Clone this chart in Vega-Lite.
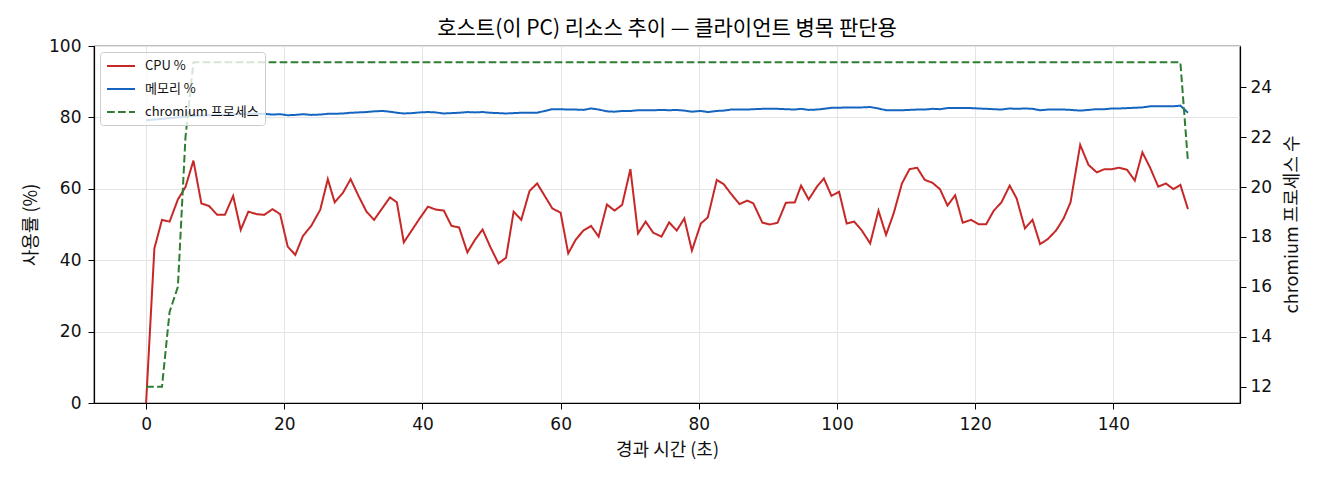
{
"$schema":"https://vega.github.io/schema/vega-lite/v6.json",
"width":1146,"height":357,
"autosize":"none",
"padding":{"left":94,"top":46,"right":80,"bottom":77},
"background":"white",
"title":{"text":"호스트(이 PC) 리소스 추이 — 클라이언트 병목 판단용","fontSize":21,"font":"Noto Sans CJK KR","fontWeight":"normal","color":"#000","offset":-2,"anchor":"middle"},
"config":{
 "font":"Noto Sans CJK KR",
 "view":{"stroke":"#000","strokeWidth":1.2},
 "axis":{"labelFontSize":17,"titleFontSize":18,"titleFontWeight":"normal","labelColor":"#111","titleColor":"#111","domainColor":"#000","domainWidth":1.2,"tickColor":"#000","tickSize":6,"tickWidth":1,"gridColor":"#e4e4e4","gridWidth":1,"labelPadding":7,"labelFlush":false,"labelFont":"DejaVu Sans","titleFont":"Noto Sans CJK KR"},
 "legend":{"labelFont":"Noto Sans CJK KR"}
},
"data":{"values":[
{"t":0,"cpu":0,"mem":79.2,"procs":12},
{"t":1.2,"cpu":43.3,"mem":79.4,"procs":12},
{"t":2.3,"cpu":51.3,"mem":79.6,"procs":12},
{"t":3.4,"cpu":50.8,"mem":79.8,"procs":15},
{"t":4.6,"cpu":57.0,"mem":80.0,"procs":16},
{"t":5.7,"cpu":60.5,"mem":80.2,"procs":22},
{"t":6.85,"cpu":67.9,"mem":80.4,"procs":25},
{"t":8.0,"cpu":55.9,"mem":80.5,"procs":25},
{"t":9.1,"cpu":55.2,"mem":80.6,"procs":25},
{"t":10.3,"cpu":52.7,"mem":80.7,"procs":25},
{"t":11.4,"cpu":52.7,"mem":80.8,"procs":25},
{"t":12.6,"cpu":58.0,"mem":80.9,"procs":25},
{"t":13.7,"cpu":48.5,"mem":81.0,"procs":25},
{"t":14.8,"cpu":53.6,"mem":81.0,"procs":25},
{"t":16.0,"cpu":52.9,"mem":81.0,"procs":25},
{"t":17.1,"cpu":52.7,"mem":81.0,"procs":25},
{"t":18.3,"cpu":54.3,"mem":80.8,"procs":25},
{"t":19.4,"cpu":52.9,"mem":80.9,"procs":25},
{"t":20.5,"cpu":43.8,"mem":80.6,"procs":25},
{"t":21.6,"cpu":41.5,"mem":80.7,"procs":25},
{"t":22.7,"cpu":46.8,"mem":80.9,"procs":25},
{"t":23.9,"cpu":49.6,"mem":80.7,"procs":25},
{"t":25.2,"cpu":54.1,"mem":80.8,"procs":25},
{"t":26.3,"cpu":62.7,"mem":81.0,"procs":25},
{"t":27.3,"cpu":56.2,"mem":81.0,"procs":25},
{"t":28.5,"cpu":58.9,"mem":81.1,"procs":25},
{"t":29.6,"cpu":62.7,"mem":81.3,"procs":25},
{"t":30.8,"cpu":57.8,"mem":81.4,"procs":25},
{"t":31.9,"cpu":53.6,"mem":81.5,"procs":25},
{"t":33.0,"cpu":51.3,"mem":81.7,"procs":25},
{"t":34.2,"cpu":54.6,"mem":81.8,"procs":25},
{"t":35.3,"cpu":57.6,"mem":81.6,"procs":25},
{"t":36.3,"cpu":56.2,"mem":81.3,"procs":25},
{"t":37.3,"cpu":45.0,"mem":81.1,"procs":25},
{"t":38.5,"cpu":48.5,"mem":81.2,"procs":25},
{"t":39.6,"cpu":51.7,"mem":81.4,"procs":25},
{"t":40.8,"cpu":55.0,"mem":81.5,"procs":25},
{"t":41.9,"cpu":54.2,"mem":81.4,"procs":25},
{"t":43.1,"cpu":53.9,"mem":81.1,"procs":25},
{"t":44.2,"cpu":49.6,"mem":81.2,"procs":25},
{"t":45.3,"cpu":49.2,"mem":81.3,"procs":25},
{"t":46.5,"cpu":42.2,"mem":81.5,"procs":25},
{"t":47.6,"cpu":45.7,"mem":81.4,"procs":25},
{"t":48.7,"cpu":48.6,"mem":81.5,"procs":25},
{"t":49.8,"cpu":43.8,"mem":81.3,"procs":25},
{"t":51.0,"cpu":39.1,"mem":81.2,"procs":25},
{"t":52.1,"cpu":40.7,"mem":81.1,"procs":25},
{"t":53.2,"cpu":53.6,"mem":81.2,"procs":25},
{"t":54.3,"cpu":51.3,"mem":81.3,"procs":25},
{"t":55.5,"cpu":59.4,"mem":81.3,"procs":25},
{"t":56.6,"cpu":61.5,"mem":81.3,"procs":25},
{"t":57.7,"cpu":58.0,"mem":81.8,"procs":25},
{"t":58.8,"cpu":54.5,"mem":82.3,"procs":25},
{"t":60.0,"cpu":53.3,"mem":82.3,"procs":25},
{"t":61.1,"cpu":41.9,"mem":82.2,"procs":25},
{"t":62.2,"cpu":45.8,"mem":82.2,"procs":25},
{"t":63.3,"cpu":48.3,"mem":82.1,"procs":25},
{"t":64.4,"cpu":49.6,"mem":82.5,"procs":25},
{"t":65.5,"cpu":46.6,"mem":82.2,"procs":25},
{"t":66.7,"cpu":55.6,"mem":81.7,"procs":25},
{"t":67.8,"cpu":53.9,"mem":81.6,"procs":25},
{"t":68.9,"cpu":55.5,"mem":81.8,"procs":25},
{"t":70.1,"cpu":65.5,"mem":81.8,"procs":25},
{"t":71.2,"cpu":47.5,"mem":82.0,"procs":25},
{"t":72.3,"cpu":50.8,"mem":82.0,"procs":25},
{"t":73.4,"cpu":47.7,"mem":82.0,"procs":25},
{"t":74.6,"cpu":46.6,"mem":82.1,"procs":25},
{"t":75.7,"cpu":50.6,"mem":82.0,"procs":25},
{"t":76.8,"cpu":48.3,"mem":82.1,"procs":25},
{"t":77.9,"cpu":51.7,"mem":81.9,"procs":25},
{"t":79.0,"cpu":42.7,"mem":81.6,"procs":25},
{"t":80.3,"cpu":50.3,"mem":81.8,"procs":25},
{"t":81.3,"cpu":52.0,"mem":81.5,"procs":25},
{"t":82.6,"cpu":62.5,"mem":81.8,"procs":25},
{"t":83.6,"cpu":61.3,"mem":81.9,"procs":25},
{"t":84.7,"cpu":58.5,"mem":82.2,"procs":25},
{"t":85.9,"cpu":55.7,"mem":82.2,"procs":25},
{"t":87.0,"cpu":56.7,"mem":82.2,"procs":25},
{"t":87.9,"cpu":55.9,"mem":82.3,"procs":25},
{"t":89.2,"cpu":50.5,"mem":82.4,"procs":25},
{"t":90.3,"cpu":50.0,"mem":82.4,"procs":25},
{"t":91.4,"cpu":50.5,"mem":82.4,"procs":25},
{"t":92.6,"cpu":56.1,"mem":82.3,"procs":25},
{"t":93.9,"cpu":56.2,"mem":82.2,"procs":25},
{"t":94.8,"cpu":60.9,"mem":82.4,"procs":25},
{"t":95.9,"cpu":57.0,"mem":82.1,"procs":25},
{"t":97.1,"cpu":60.6,"mem":82.2,"procs":25},
{"t":98.1,"cpu":62.9,"mem":82.4,"procs":25},
{"t":99.2,"cpu":58.0,"mem":82.7,"procs":25},
{"t":100.3,"cpu":59.2,"mem":82.7,"procs":25},
{"t":101.4,"cpu":50.3,"mem":82.8,"procs":25},
{"t":102.5,"cpu":50.8,"mem":82.8,"procs":25},
{"t":103.6,"cpu":48.3,"mem":82.8,"procs":25},
{"t":104.8,"cpu":44.7,"mem":82.9,"procs":25},
{"t":106.0,"cpu":53.9,"mem":82.5,"procs":25},
{"t":107.1,"cpu":47.1,"mem":82.0,"procs":25},
{"t":108.2,"cpu":53.1,"mem":82.0,"procs":25},
{"t":109.4,"cpu":61.5,"mem":82.0,"procs":25},
{"t":110.5,"cpu":65.5,"mem":82.1,"procs":25},
{"t":111.6,"cpu":65.9,"mem":82.2,"procs":25},
{"t":112.7,"cpu":62.5,"mem":82.2,"procs":25},
{"t":113.8,"cpu":61.7,"mem":82.4,"procs":25},
{"t":114.9,"cpu":59.9,"mem":82.3,"procs":25},
{"t":116.0,"cpu":55.3,"mem":82.6,"procs":25},
{"t":117.1,"cpu":58.2,"mem":82.6,"procs":25},
{"t":118.2,"cpu":50.5,"mem":82.6,"procs":25},
{"t":119.4,"cpu":51.3,"mem":82.6,"procs":25},
{"t":120.5,"cpu":50.1,"mem":82.5,"procs":25},
{"t":121.6,"cpu":50.1,"mem":82.4,"procs":25},
{"t":122.7,"cpu":53.9,"mem":82.3,"procs":25},
{"t":123.8,"cpu":56.2,"mem":82.2,"procs":25},
{"t":125.0,"cpu":60.9,"mem":82.5,"procs":25},
{"t":126.0,"cpu":57.3,"mem":82.4,"procs":25},
{"t":127.2,"cpu":48.9,"mem":82.5,"procs":25},
{"t":128.3,"cpu":51.3,"mem":82.4,"procs":25},
{"t":129.4,"cpu":44.5,"mem":82.0,"procs":25},
{"t":130.5,"cpu":45.9,"mem":82.2,"procs":25},
{"t":131.7,"cpu":48.3,"mem":82.2,"procs":25},
{"t":132.8,"cpu":51.7,"mem":82.2,"procs":25},
{"t":133.8,"cpu":56.2,"mem":82.1,"procs":25},
{"t":135.2,"cpu":72.3,"mem":81.9,"procs":25},
{"t":136.4,"cpu":66.7,"mem":82.1,"procs":25},
{"t":137.6,"cpu":64.6,"mem":82.3,"procs":25},
{"t":138.7,"cpu":65.5,"mem":82.3,"procs":25},
{"t":139.8,"cpu":65.5,"mem":82.5,"procs":25},
{"t":140.8,"cpu":65.9,"mem":82.5,"procs":25},
{"t":142.0,"cpu":65.3,"mem":82.6,"procs":25},
{"t":143.1,"cpu":62.3,"mem":82.7,"procs":25},
{"t":144.2,"cpu":70.2,"mem":82.8,"procs":25},
{"t":145.3,"cpu":66.0,"mem":83.1,"procs":25},
{"t":146.5,"cpu":60.6,"mem":83.1,"procs":25},
{"t":147.6,"cpu":61.5,"mem":83.1,"procs":25},
{"t":148.7,"cpu":59.9,"mem":83.1,"procs":25},
{"t":149.7,"cpu":61.1,"mem":83.3,"procs":25},
{"t":150.8,"cpu":54.3,"mem":81.3,"procs":21}
]},
"encoding":{
 "x":{"field":"t","type":"quantitative","scale":{"domain":[-7.54,158.33],"nice":false,"zero":false},
      "axis":{"values":[0,20,40,60,80,100,120,140],"title":"경과 시간 (초)","grid":true,"titlePadding":9}}
},
"layer":[
 {"transform":[{"fold":["cpu","mem"],"as":["series","value"]}],
  "mark":{"type":"line","strokeWidth":2},
  "encoding":{
   "y":{"field":"value","type":"quantitative","scale":{"domain":[0,100],"nice":false},
        "axis":{"title":"사용률 (%)","values":[0,20,40,60,80,100],"grid":true,"titlePadding":8}},
   "color":{"field":"series","type":"nominal","scale":{"domain":["cpu","mem","procs"],"range":["#c62828","#1565c0","#2e7d32"]},
     "legend":{"title":null,"orient":"none","legendX":6,"legendY":6,"symbolType":"M-1,0H3","symbolStrokeWidth":2,"symbolSize":196,"labelFontSize":13,"labelColor":"#111","labelOffset":23,"rowPadding":8,"padding":6,"fillColor":"rgba(255,255,255,0.8)","strokeColor":"#cccccc","cornerRadius":3,
       "labelExpr":"datum.label == 'cpu' ? 'CPU %' : datum.label == 'mem' ? '메모리 %' : 'chromium 프로세스'"}},
   "strokeDash":{"field":"series","type":"nominal","scale":{"domain":["cpu","mem","procs"],"range":[[1,0],[1,0],[7.7,3.3]]},
     "legend":{"title":null,"orient":"none","legendX":6,"legendY":6,"symbolType":"M-1,0H3","symbolStrokeWidth":2,"symbolSize":196,"labelFontSize":13,"labelColor":"#111","labelOffset":23,"rowPadding":8,"padding":6,"fillColor":"rgba(255,255,255,0.8)","strokeColor":"#cccccc","cornerRadius":3,
       "labelExpr":"datum.label == 'cpu' ? 'CPU %' : datum.label == 'mem' ? '메모리 %' : 'chromium 프로세스'"}}
  }},
 {"transform":[{"fold":["procs"],"as":["series","value"]}],
  "mark":{"type":"line","strokeWidth":2},
  "encoding":{
   "y":{"field":"value","type":"quantitative","scale":{"domain":[11.35,25.65],"nice":false,"zero":false},
        "axis":{"orient":"right","title":"chromium 프로세스 수","values":[12,14,16,18,20,22,24],"grid":false,"labelPadding":4,"titleAngle":-90,"titleX":52,"titleY":178,"titleAlign":"center","titleBaseline":"middle"}},
   "color":{"field":"series","type":"nominal"},
   "strokeDash":{"field":"series","type":"nominal"}
  }}
],
"resolve":{"scale":{"y":"independent"}}
}
